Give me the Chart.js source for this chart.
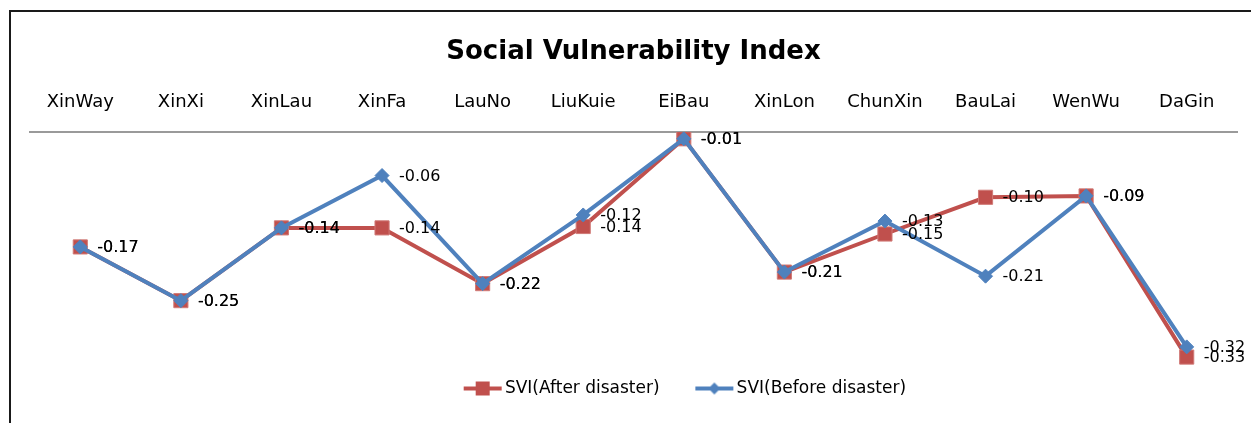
<!DOCTYPE html>
<html>
<head>
<meta charset="utf-8">
<title>Social Vulnerability Index</title>
<script src="https://cdn.jsdelivr.net/npm/chart.js@4"></script>
<style>
  html, body { margin: 0; padding: 0; background: #fff; }
  #frame {
    position: absolute; left: 9px; top: 10px;
    width: 1240px; height: 411px;
    border-left: 2px solid #1a1a1a; border-top: 2px solid #1a1a1a;
  }
  canvas { display: block; }
</style>
</head>
<body>
<div id="frame"><canvas id="sviChart" width="1240" height="411"></canvas></div>
<script>
// values (labels shown rounded to 2 decimals)
const villages = ["XinWay", "XinXi", "XinLau", "XinFa", "LauNo", "LiuKuie",
                  "EiBau", "XinLon", "ChunXin", "BauLai", "WenWu", "DaGin"];
const sviAfter  = [-0.169, -0.248, -0.141, -0.141, -0.223, -0.139, -0.010, -0.206, -0.150, -0.096, -0.094, -0.331];
const sviBefore = [-0.169, -0.248, -0.141, -0.064, -0.223, -0.122, -0.010, -0.206, -0.131, -0.212, -0.094, -0.316];

const red = "#C0504D";
const blue = "#4F81BD";
const fontFamily = "'DejaVu Sans', sans-serif";

// line+marker icons for the legend (line sits in the right part of the image)
function legendIcon(color, shape) {
  const c = document.createElement("canvas");
  c.width = 71; c.height = 16;
  const g = c.getContext("2d");
  g.strokeStyle = color;
  g.fillStyle = color;
  g.lineWidth = 4;
  g.beginPath(); g.moveTo(32, 8); g.lineTo(70, 8); g.stroke();
  if (shape === "rect") {
    g.fillRect(44, 1, 14, 14);
  } else {
    g.beginPath();
    g.moveTo(51, 2); g.lineTo(57, 8); g.lineTo(51, 14); g.lineTo(45, 8);
    g.closePath(); g.fill();
  }
  return c;
}
const blank = document.createElement("canvas");
blank.width = 1; blank.height = 1;

// value labels to the right of each point
const pointLabels = {
  id: "pointLabels",
  afterDatasetsDraw(chart) {
    const ctx = chart.ctx;
    ctx.save();
    ctx.font = "16px " + fontFamily;
    ctx.fillStyle = "#000";
    ctx.textAlign = "left";
    ctx.textBaseline = "middle";
    chart.data.datasets.forEach((ds, i) => {
      chart.getDatasetMeta(i).data.forEach((pt, j) => {
        ctx.fillText(ds.data[j].toFixed(2), pt.x + 17, pt.y + 1);
      });
    });
    ctx.restore();
  }
};

const icons = [legendIcon(blue, "diamond"), legendIcon(red, "rect")];

new Chart(document.getElementById("sviChart"), {
  type: "line",
  data: {
    labels: villages,
    datasets: [
      {
        label: "SVI(Before disaster)",
        data: sviBefore,
        borderColor: blue,
        backgroundColor: blue,
        borderWidth: 4,
        pointStyle: "rectRot",
        pointRadius: 7,
        pointBorderWidth: 1,
        pointBackgroundColor: blue,
        pointBorderColor: blue
      },
      {
        label: "SVI(After disaster)",
        data: sviAfter,
        borderColor: red,
        backgroundColor: red,
        borderWidth: 4,
        pointStyle: "rect",
        pointRadius: 10,
        pointBorderWidth: 1,
        pointBackgroundColor: red,
        pointBorderColor: "#d07a77"
      }
    ]
  },
  options: {
    responsive: false,
    animation: false,
    layout: { padding: { left: 19, right: 14, bottom: 16 } },
    plugins: {
      title: {
        display: true,
        text: "Social Vulnerability Index",
        color: "#000",
        font: { family: fontFamily, size: 26, weight: "bold" },
        padding: { top: 25, bottom: 4 }
      },
      legend: {
        position: "bottom",
        labels: {
          usePointStyle: true,
          pointStyleWidth: 58.5,
          color: "#000",
          font: { family: fontFamily, size: 17 },
          generateLabels(chart) {
            // empty first entry only pushes the legend a bit to the right, like the original
            const items = [{ text: "", pointStyle: blank, lineWidth: 0, hidden: false,
                             fillStyle: "rgba(0,0,0,0)", strokeStyle: "rgba(0,0,0,0)" }];
            [1, 0].forEach(i => {
              const ds = chart.data.datasets[i];
              items.push({
                text: ds.label,
                fillStyle: ds.borderColor,
                strokeStyle: ds.borderColor,
                lineWidth: 0,
                pointStyle: icons[i],
                datasetIndex: i,
                hidden: false,
                fontColor: "#000"
              });
            });
            return items;
          }
        }
      },
      tooltip: { enabled: false }
    },
    scales: {
      x: {
        position: "top",
        offset: true,
        grid: { drawOnChartArea: false, drawTicks: false },
        border: { display: true, color: "#9a9a9a", width: 2 },
        ticks: {
          padding: 19,
          color: "#000",
          font: { family: fontFamily, size: 18 }
        },
        afterFit(scale) { scale.height = 59.8; }
      },
      y: {
        display: false,
        min: -0.35,
        max: 0
      }
    }
  },
  plugins: [pointLabels]
});
</script>
</body>
</html>
